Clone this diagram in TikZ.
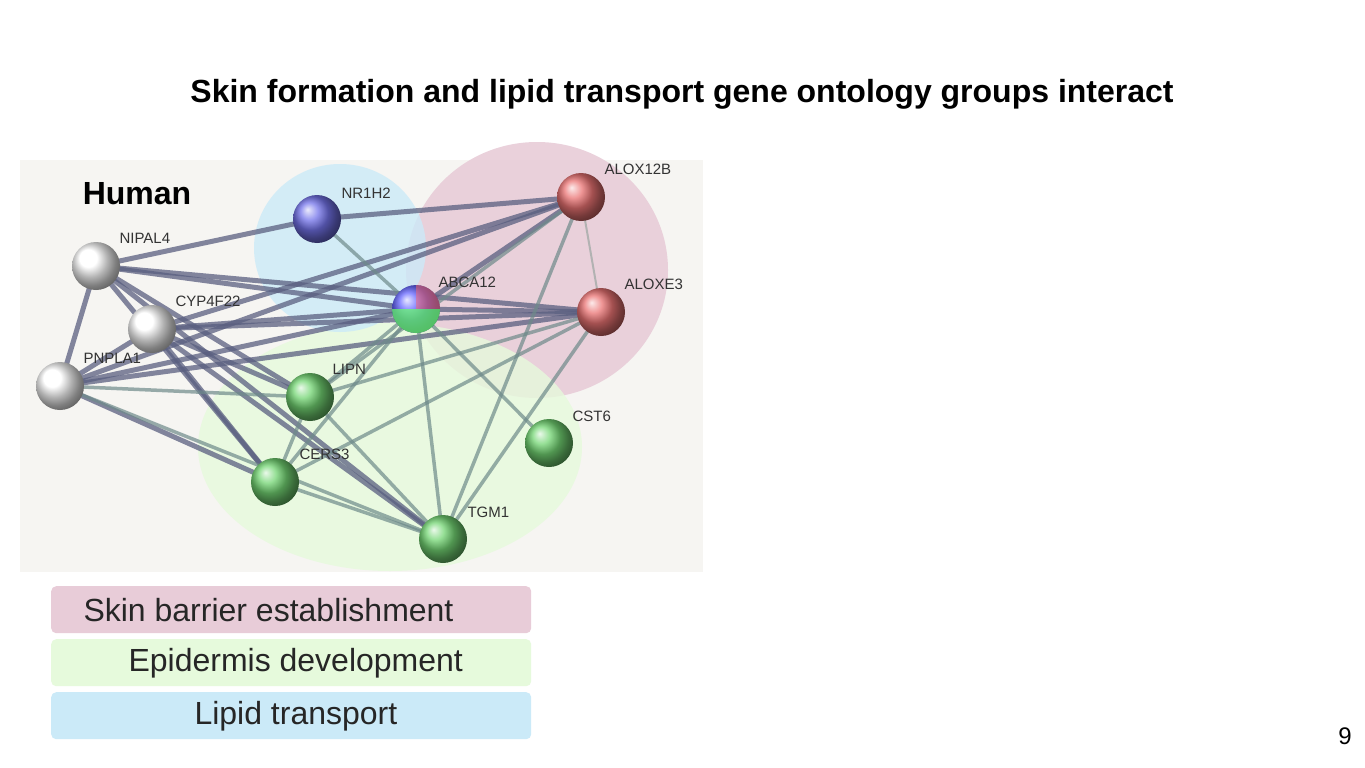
\documentclass[tikz,border=0pt]{standalone}
\usepackage{fontspec}
\setmainfont{Liberation Sans}
\begin{document}
\begin{tikzpicture}[x=1pt,y=-1pt,
  lab/.style={font=\fontsize{15}{17}\selectfont,text=black!80},
  e/.style={draw=edgec,line width=5pt,opacity=0.75},
  ef/.style={draw=edgec2,line width=3.5pt,opacity=0.7},
  legend/.style={rounded corners=5pt,minimum width=480pt,minimum height=47pt,anchor=north west,inner sep=0pt},
  legt/.style={anchor=west,font=\fontsize{32}{36}\selectfont,text=black!85}]
\definecolor{edgec}{HTML}{5A5F80}
\definecolor{edgec2}{HTML}{6E8A8A}
\definecolor{pinkc}{HTML}{E8CCD8}
\definecolor{greenc}{HTML}{E6FADC}
\definecolor{bluec}{HTML}{CBEAF8}
\definecolor{panel}{HTML}{F6F5F2}
\useasboundingbox (0,0) rectangle (1365,768);
\fill[white] (0,0) rectangle (1365,768);
\node[font=\bfseries\fontsize{32}{36}\selectfont] (title) at (682,94) {Skin formation and lipid transport gene ontology groups interact};
\fill[panel] (20,160) rectangle (703,572);
\fill[pinkc,opacity=0.9] (537,270) ellipse (131 and 128);
\fill[greenc,opacity=0.8] (390,447) ellipse (192 and 124);
\fill[bluec,opacity=0.8] (340,248) ellipse (86 and 84);
\node[font=\bfseries\fontsize{32}{36}\selectfont] (human) at (137,194) {Human};
\coordinate (NR1H2) at (317,219);
\coordinate (ALOX12B) at (581,197);
\coordinate (NIPAL4) at (96,266);
\coordinate (ABCA12) at (416,309);
\coordinate (ALOXE3) at (601,312);
\coordinate (CYP4F22) at (152,329);
\coordinate (PNPLA1) at (60,386);
\coordinate (LIPN) at (310,397);
\coordinate (CST6) at (549,443);
\coordinate (CERS3) at (275,482);
\coordinate (TGM1) at (443,539);
\foreach \a/\b in {NIPAL4/NR1H2,NIPAL4/ABCA12,NIPAL4/ALOXE3,NIPAL4/PNPLA1,NIPAL4/LIPN,NIPAL4/CERS3,NIPAL4/TGM1,
  NR1H2/ALOX12B,CYP4F22/ALOX12B,CYP4F22/ABCA12,CYP4F22/ALOXE3,CYP4F22/LIPN,CYP4F22/CERS3,CYP4F22/TGM1,
  PNPLA1/ALOX12B,PNPLA1/ABCA12,PNPLA1/ALOXE3,PNPLA1/CYP4F22,PNPLA1/CERS3,ABCA12/ALOXE3,ABCA12/ALOX12B}
  \draw[e] (\a) -- (\b);
\foreach \a/\b in {NR1H2/ABCA12,PNPLA1/LIPN,PNPLA1/TGM1,ABCA12/LIPN,ABCA12/CERS3,ABCA12/TGM1,ABCA12/CST6,
  ALOX12B/TGM1,ALOX12B/LIPN,ALOXE3/LIPN,ALOXE3/CERS3,ALOXE3/TGM1,LIPN/CERS3,LIPN/TGM1,CERS3/TGM1}
  \draw[ef] (\a) -- (\b);
\draw[draw=black!30,line width=2pt] (ALOX12B) -- (ALOXE3);
\foreach \n/\c in {NR1H2/blue!85!black,ALOX12B/red!85!black,NIPAL4/white,ALOXE3/red!85!black,CYP4F22/white,PNPLA1/white,LIPN/green!70!black,CST6/green!70!black,CERS3/green!70!black,TGM1/green!70!black}
  \shade[ball color=\c!55!white] (\n) circle (24);
\shade[ball color=blue!60] (ABCA12) circle (24);
\begin{scope}\clip (ABCA12) circle (24);
\fill[green!60!white,opacity=0.7] (392,309) rectangle (440,335);
\fill[red!60,opacity=0.5] (416,285) rectangle (440,309);\end{scope}
\node[lab,anchor=west] (l1) at (338,193) {NR1H2};
\node[lab,anchor=west] (l2) at (601,169) {ALOX12B};
\node[lab,anchor=west] (l3) at (116,238) {NIPAL4};
\node[lab,anchor=west] (l4) at (435,282) {ABCA12};
\node[lab,anchor=west] (l5) at (621,284) {ALOXE3};
\node[lab,anchor=west] (l6) at (172,301) {CYP4F22};
\node[lab,anchor=west] (l7) at (80,358) {PNPLA1};
\node[lab,anchor=west] (l8) at (329,369) {LIPN};
\node[lab,anchor=west] (l9) at (569,416) {CST6};
\node[lab,anchor=west] (l10) at (296,454) {CERS3};
\node[lab,anchor=west] (l11) at (464,512) {TGM1};
\node[legend,fill=pinkc] (g1) at (51,586) {};
\node[legt] (g1t) at (80,610) {Skin barrier establishment};
\node[legend,fill=greenc] (g2) at (51,639) {};
\node[legt] (g2t) at (125,663) {Epidermis development};
\node[legend,fill=bluec] (g3) at (51,692) {};
\node[legt] (g3t) at (191,716) {Lipid transport};
\node[font=\fontsize{24}{26}\selectfont] (pg) at (1345,736) {9};
\end{tikzpicture}
\end{document}
